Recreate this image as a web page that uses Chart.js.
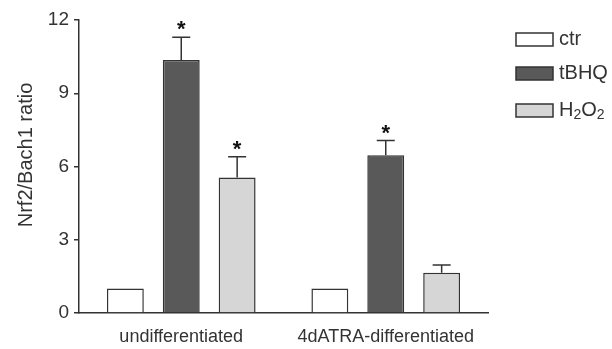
<!DOCTYPE html>
<html>
<head>
<meta charset="utf-8">
<script src="https://cdn.jsdelivr.net/npm/chart.js@4.4.1/dist/chart.umd.min.js"></script>
<style>
  html, body { margin: 0; padding: 0; background: #fff; }
  #wrap { width: 612px; height: 349px; position: relative; }
</style>
</head>
<body>
<div id="wrap"><canvas id="myChart" width="612" height="349"></canvas></div>
<script>
const categories = ['undifferentiated', '4dATRA-differentiated'];
const seriesNames = ['ctr', 'tBHQ', 'H2O2'];
const ctrValues = [1.0, 1.0];
const tbhqValues = [10.36, 6.46];
const h2o2Values = [5.55, 1.65];
const ctrErrors = [0, 0];
const tbhqErrors = [0.93, 0.6];
const h2o2Errors = [0.85, 0.32];
const tbhqStars = [true, true];
const h2o2Stars = [true, false];
const yTicks = [0, 3, 6, 9, 12];
const yTitle = 'Nrf2/Bach1 ratio';

const FONT = '"Liberation Sans", Arial, sans-serif';
const EDGE = '#333';
const TEXT = '#333';

// error bars + significance stars
const errorBars = {
    id: 'errorBars',
    afterDatasetsDraw(chart) {
        const ctx = chart.ctx;
        const y = chart.scales.y;
        chart.data.datasets.forEach((ds, di) => {
            const meta = chart.getDatasetMeta(di);
            meta.data.forEach((bar, i) => {
                const err = ds.errors[i];
                const top = y.getPixelForValue(ds.data[i] + err);
                if (err > 0) {
                    ctx.save();
                    ctx.strokeStyle = EDGE;
                    ctx.lineWidth = 1.5;
                    ctx.beginPath();
                    ctx.moveTo(bar.x, bar.y);
                    ctx.lineTo(bar.x, top);
                    ctx.moveTo(bar.x - 9, top);
                    ctx.lineTo(bar.x + 9, top);
                    ctx.stroke();
                    ctx.restore();
                }
                if (ds.stars && ds.stars[i]) {
                    ctx.save();
                    ctx.fillStyle = '#111';
                    ctx.font = 'bold 22px ' + FONT;
                    ctx.textAlign = 'center';
                    ctx.textBaseline = 'alphabetic';
                    ctx.fillText('*', bar.x, top - 1);
                    ctx.restore();
                }
            });
        });
    }
};

// legend on the right (with subscript for H2O2) and the y title
const sideLegend = {
    id: 'sideLegend',
    afterDraw(chart) {
        const ctx = chart.ctx;
        const x0 = 516, w = 37, h = 13;
        const rows = [33, 67, 104];
        chart.data.datasets.forEach((ds, i) => {
            ctx.save();
            ctx.fillStyle = ds.backgroundColor;
            ctx.fillRect(x0, rows[i], w, h);
            ctx.strokeStyle = EDGE;
            ctx.lineWidth = 1.5;
            ctx.strokeRect(x0, rows[i], w, h);
            ctx.fillStyle = TEXT;
            ctx.textBaseline = 'middle';
            ctx.textAlign = 'left';
            ctx.font = '20px ' + FONT;
            const ty = rows[i] + h / 2;
            if (ds.label === 'H2O2') {
                let tx = 559;
                ctx.fillText('H', tx, ty); tx += ctx.measureText('H').width;
                ctx.font = '14px ' + FONT;
                ctx.fillText('2', tx, ty + 5); tx += ctx.measureText('2').width;
                ctx.font = '20px ' + FONT;
                ctx.fillText('O', tx, ty); tx += ctx.measureText('O').width;
                ctx.font = '14px ' + FONT;
                ctx.fillText('2', tx, ty + 5);
            } else {
                ctx.fillText(ds.label, 559, ty);
            }
            ctx.restore();
        });

        ctx.save();
        ctx.translate(26, 155);
        ctx.rotate(-Math.PI / 2);
        ctx.fillStyle = TEXT;
        ctx.font = '20px ' + FONT;
        ctx.textAlign = 'center';
        ctx.textBaseline = 'middle';
        ctx.fillText(yTitle, 0, 0);
        ctx.restore();
    }
};

const ctx = document.getElementById('myChart');
new Chart(ctx, {
    type: 'bar',
    data: {
        labels: categories,
        datasets: [
            { label: seriesNames[0], data: ctrValues, errors: ctrErrors, backgroundColor: '#ffffff' },
            { label: seriesNames[1], data: tbhqValues, errors: tbhqErrors, stars: tbhqStars, backgroundColor: '#595959' },
            { label: seriesNames[2], data: h2o2Values, errors: h2o2Errors, stars: h2o2Stars, backgroundColor: '#d6d6d6' }
        ].map(d => Object.assign(d, {
            borderColor: EDGE,
            borderWidth: 1.5,
            categoryPercentage: 0.82,
            barPercentage: 0.66
        }))
    },
    options: {
        responsive: false,
        animation: false,
        layout: { padding: { left: 0, right: 124, top: 20, bottom: 0 } },
        plugins: { legend: { display: false }, tooltip: { enabled: false } },
        scales: {
            x: {
                grid: { display: false },
                border: { color: EDGE, width: 1.5 },
                ticks: { color: TEXT, font: { family: FONT, size: 18 }, padding: 5 },
                afterFit(s) { s.height = 36; }
            },
            y: {
                min: 0,
                max: 12,
                afterBuildTicks(s) { s.ticks = yTicks.map(v => ({ value: v })); },
                grid: { drawOnChartArea: false, drawTicks: true, tickLength: 5, color: EDGE, lineWidth: 1.5 },
                border: { color: EDGE, width: 1.5 },
                ticks: { color: TEXT, font: { family: FONT, size: 19 }, padding: 5 },
                afterFit(s) { s.width = 79; }
            }
        }
    },
    plugins: [errorBars, sideLegend]
});
</script>
</body>
</html>
